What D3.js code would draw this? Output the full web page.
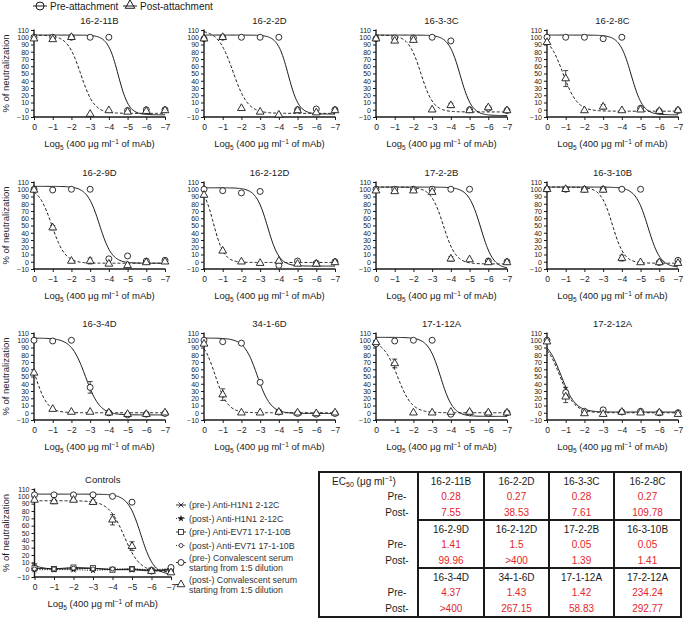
<!DOCTYPE html>
<html>
<head>
<meta charset="utf-8">
<script src="https://cdn.jsdelivr.net/npm/d3@7"></script>
<style>
  body { margin: 0; background: #fff; }
  svg { font-family: "Liberation Sans", Arial, Helvetica, sans-serif; }
</style>
</head>
<body>
<svg id="chart" width="685" height="619"></svg>
<script>
// dilution steps (log5 of 400 ug/ml)
const xTicks = [0, -1, -2, -3, -4, -5, -6, -7];
const yTicks = d3.range(-10, 111, 10);

const panelNames = [
  "16-2-11B", "16-2-2D", "16-3-3C", "16-2-8C",
  "16-2-9D", "16-2-12D", "17-2-2B", "16-3-10B",
  "16-3-4D", "34-1-6D", "17-1-12A", "17-2-12A",
];

// % neutralization at each dilution step
const preValues = [
  [100, 100, 100, 100, 100, -1, 0, 0],
  [98, 100, 100, 100, 100, 0, 1, 0],
  [98, 99, 99, 100, 95, 0, 2, -1],
  [100, 100, 100, 98, 100, 2, -2, -1],
  [100, 99, 100, 100, 4, 8, 1, 2],
  [100, 98, 95, 97, -5, 1, -2, 0],
  [100, 100, 100, 100, 100, 100, 1, 0],
  [100, 100, 100, 100, 100, 100, -1, 2],
  [100, 99, 100, 35, 0, -3, -2, -1],
  [100, 98, 96, 42, 1, -1, -2, -1],
  [95, 99, 100, 100, -2, 0, -1, 0],
  [100, 28, 2, 4, 1, 2, 0, 0],
];
const postValues = [
  [98, 97, 100, -6, -1, -3, -2, -1],
  [98, 100, 2, -3, -7, -1, -4, -1],
  [98, 95, 96, 0, 6, -1, 3, -1],
  [93, 43, -1, 4, -1, 0, -2, -1],
  [99, 47, 1, 1, -3, -5, -1, 0],
  [92, 15, 0, -2, 1, -3, -3, -1],
  [98, 97, 98, 96, 4, 3, -1, -1],
  [100, 100, 99, 99, 5, -1, -1, -2],
  [55, 5, 1, 1, 0, -2, -2, 0],
  [95, 25, 0, 0, 1, 0, -1, 0],
  [97, 68, 0, 0, 1, 1, 0, 0],
  [98, 22, -1, -2, 1, 0, 0, -2],
];
// error bar half-widths
const preErr = [
  [0, 0, 0, 0, 0, 0, 0, 0], [0, 0, 0, 0, 0, 0, 0, 0], [0, 0, 0, 0, 0, 0, 0, 0], [0, 0, 0, 0, 0, 0, 0, 0],
  [0, 0, 0, 0, 0, 0, 0, 0], [0, 0, 0, 0, 0, 0, 0, 0], [0, 0, 0, 0, 0, 0, 0, 0], [0, 0, 0, 0, 0, 0, 0, 0],
  [0, 0, 0, 8, 0, 0, 0, 0], [0, 0, 0, 0, 0, 0, 0, 0], [0, 0, 0, 0, 0, 0, 0, 0], [0, 7, 2, 3, 0, 0, 0, 0],
];
const postErr = [
  [0, 0, 0, 0, 0, 0, 0, 0], [0, 0, 0, 0, 0, 0, 0, 0], [0, 0, 0, 0, 3, 0, 0, 0], [0, 11, 0, 3, 0, 0, 0, 0],
  [0, 3, 0, 4, 0, 0, 0, 0], [0, 0, 0, 0, 0, 0, 0, 0], [0, 0, 0, 0, 3, 0, 0, 0], [0, 0, 0, 0, 4, 0, 0, 0],
  [0, 0, 0, 0, 0, 0, 0, 0], [0, 8, 0, 0, 0, 0, 0, 0], [0, 6, 0, 0, 0, 0, 0, 0], [0, 8, 0, 0, 0, 0, 0, 0],
];
// fitted sigmoid: [top, bottom, midpoint, slope]
const preFit = [
  [103, -7, -4.5, 3.5], [103, -6, -4.5, 3.5], [103, -8, -4.5, 3.2], [103, -7, -4.5, 3.2],
  [104, -2, -3.5, 3], [102, -6, -3.4, 3.2], [103, -10, -5.6, 3], [103, -8, -5.4, 3],
  [103, -3, -2.75, 2.6], [103, -1, -2.85, 2.8], [104, -5, -3.45, 3], [102, 1, -0.75, 2.6],
];
const postFit = [
  [103, -5, -2.5, 2.8], [110, -5, -1.55, 2.5], [103, -3, -2.4, 3], [103, -2, -0.85, 2.6],
  [103, -2, -0.95, 2.8], [108, -1, -0.5, 3.5], [103, -3, -3.6, 3], [103, -2, -3.5, 3.2],
  [105, 0, -0.05, 3], [103, 0, -0.6, 3], [100, 0, -1.15, 2.6], [100, 0, -0.7, 2.6],
];

// controls panel
const controlLabels = [
  ["(pre-) Anti-H1N1 2-12C"],
  ["(post-) Anti-H1N1 2-12C"],
  ["(pre-) Anti-EV71 17-1-10B"],
  ["(post-) Anti-EV71 17-1-10B"],
  ["(pre-) Convalescent serum", "starting from 1:5 dilution"],
  ["(post-) Convalescent serum", "starting from 1:5 dilution"],
];
const controlMarkers = ["cross", "star", "square", "smallcircle", "circle", "triangle"];
const controlValues = [
  [5, 1, 1, 2, 0, 0, -2, 0],
  [0, 0, 0, -1, 0, 0, -1, 0],
  [2, 1, 3, 2, 0, 1, -1, 1],
  [1, 1, 2, 1, 1, 1, 0, 2],
  [102, 102, 102, 102, 100, 92, -2, 3],
  [95, 93, 95, 92, 68, 32, -2, -4],
];
const controlErr = [
  [3, 0, 0, 0, 0, 0, 0, 0],
  [0, 0, 0, 0, 0, 0, 0, 0],
  [0, 0, 0, 0, 0, 0, 0, 0],
  [0, 0, 0, 0, 0, 0, 0, 0],
  [0, 0, 0, 0, 0, 0, 0, 0],
  [0, 3, 2, 3, 7, 6, 0, 0],
];
const controlFit = [[103, -7, -5.45, 3], [94, -3, -4.6, 2.5]];

// EC50 table
const tableNames = [
  ["16-2-11B", "16-2-2D", "16-3-3C", "16-2-8C"],
  ["16-2-9D", "16-2-12D", "17-2-2B", "16-3-10B"],
  ["16-3-4D", "34-1-6D", "17-1-12A", "17-2-12A"],
];
const tablePre = [
  ["0.28", "0.27", "0.28", "0.27"],
  ["1.41", "1.5", "0.05", "0.05"],
  ["4.37", "1.43", "1.42", "234.24"],
];
const tablePost = [
  ["7.55", "38.53", "7.61", "109.78"],
  ["99.96", ">400", "1.39", "1.41"],
  [">400", "267.15", "58.83", "292.77"],
];

const svg = d3.select("#chart");
const colX = [34, 204, 376, 547];
const rowTop = [30, 182, 333];
const plotW = 131;
const plotH = 87;
const ink = "#1a1a1a";

function sigmoid(p, x) {
  const [top, bottom, mid, slope] = p;
  return bottom + (top - bottom) / (1 + Math.exp(slope * (mid - x)));
}

function drawMarker(g, type, cx, cy) {
  if (type === "circle") {
    g.append("circle").attr("cx", cx).attr("cy", cy).attr("r", 3)
      .attr("fill", "#fff").attr("stroke", ink).attr("stroke-width", 0.9);
  } else if (type === "smallcircle") {
    g.append("circle").attr("cx", cx).attr("cy", cy).attr("r", 2)
      .attr("fill", "#fff").attr("stroke", ink).attr("stroke-width", 0.8);
  } else if (type === "triangle") {
    g.append("path").attr("transform", `translate(${cx},${cy})`)
      .attr("d", d3.symbol(d3.symbolTriangle).size(26)())
      .attr("fill", "#fff").attr("stroke", ink).attr("stroke-width", 0.9);
  } else if (type === "square") {
    g.append("rect").attr("x", cx - 2.5).attr("y", cy - 2.5).attr("width", 5).attr("height", 5)
      .attr("fill", "#fff").attr("stroke", ink).attr("stroke-width", 0.8);
  } else if (type === "cross") {
    g.append("path").attr("transform", `translate(${cx},${cy})`)
      .attr("d", d3.symbol(d3.symbolX).size(18)())
      .attr("fill", "none").attr("stroke", ink).attr("stroke-width", 0.9);
  } else if (type === "star") {
    g.append("path").attr("transform", `translate(${cx},${cy})`)
      .attr("d", d3.symbol(d3.symbolStar).size(16)())
      .attr("fill", ink);
  }
}

function drawAxes(g, x, y, top, bottom, left, right) {
  const fmt = (d) => (d < 0 ? "\u2212" + Math.abs(d) : d);
  const yAxis = g.append("g").attr("transform", `translate(${left},0)`)
    .call(d3.axisLeft(y).tickValues(yTicks).tickSize(3).tickPadding(1.5).tickFormat(fmt));
  const xAxis = g.append("g").attr("transform", `translate(0,${bottom})`)
    .call(d3.axisBottom(x).tickValues(xTicks).tickSize(3).tickPadding(4).tickFormat(fmt));
  [yAxis, xAxis].forEach((a) => {
    a.select(".domain").remove();
    a.selectAll("line").attr("stroke", ink).attr("stroke-width", 1);
    a.selectAll("text").attr("fill", ink)
      .attr("font-family", "Liberation Sans, Arial, sans-serif");
  });
  // dense y ticks: keep the labels small enough not to collide
  yAxis.selectAll("text").attr("font-size", 6.3).attr("dy", "0.36em")
    .attr("transform", "scale(1.12,1)");
  xAxis.selectAll("text").attr("font-size", 8.5);
  g.append("line").attr("x1", left).attr("x2", left).attr("y1", top - 0.5).attr("y2", bottom + 0.7)
    .attr("stroke", ink).attr("stroke-width", 1.4);
  g.append("line").attr("x1", left - 0.7).attr("x2", right + 0.5).attr("y1", bottom).attr("y2", bottom)
    .attr("stroke", ink).attr("stroke-width", 1.4);

  const lab = g.append("text").attr("x", (left + right) / 2).attr("y", bottom + 30)
    .attr("text-anchor", "middle").attr("font-size", 9.5).attr("fill", ink);
  lab.append("tspan").text("Log");
  lab.append("tspan").attr("font-size", 6.5).attr("dy", 2.5).text("5");
  lab.append("tspan").attr("dy", -2.5).text(" (400 \u03bcg ml");
  lab.append("tspan").attr("font-size", 6.5).attr("dy", -3.5).text("\u22121");
  lab.append("tspan").attr("dy", 3.5).text(" of mAb)");
}

function drawErr(g, cx, y, v, e) {
  if (!e) return;
  const y1 = y(v - e), y2 = y(v + e);
  g.append("line").attr("x1", cx).attr("x2", cx).attr("y1", y1).attr("y2", y2)
    .attr("stroke", ink).attr("stroke-width", 0.8);
  [y1, y2].forEach((yy) => g.append("line").attr("x1", cx - 2.5).attr("x2", cx + 2.5)
    .attr("y1", yy).attr("y2", yy).attr("stroke", ink).attr("stroke-width", 0.8));
}

function drawCurve(g, x, y, fit, dash) {
  const pts = d3.range(0, -7.0001, -0.05).map((t) => [t, sigmoid(fit, t)]);
  g.append("path").datum(pts)
    .attr("d", d3.line().x((d) => x(d[0])).y((d) => y(d[1])))
    .attr("fill", "none").attr("stroke", ink).attr("stroke-width", 1)
    .attr("stroke-dasharray", dash || null);
}

function yLabel(top, bottom) {
  svg.append("text")
    .attr("transform", `translate(9,${(top + bottom) / 2}) rotate(-90)`)
    .attr("text-anchor", "middle").attr("font-size", 9.5).attr("fill", ink)
    .text("% of neutralization");
}

panelNames.forEach((name, i) => {
  const left = colX[i % 4];
  const top = rowTop[Math.floor(i / 4)];
  const bottom = top + plotH;
  const right = left + plotW;
  const x = d3.scaleLinear().domain([0, -7]).range([left, right]);
  const y = d3.scaleLinear().domain([-10, 110]).range([bottom, top]);
  const g = svg.append("g");

  g.append("text").attr("x", (left + right) / 2).attr("y", top - 6)
    .attr("text-anchor", "middle").attr("font-size", 9.5).attr("fill", ink).text(name);

  drawAxes(g, x, y, top, bottom, left, right);
  drawCurve(g, x, y, preFit[i]);
  drawCurve(g, x, y, postFit[i], "3,2");

  xTicks.forEach((t, k) => {
    drawErr(g, x(t), y, preValues[i][k], preErr[i][k]);
    drawErr(g, x(t), y, postValues[i][k], postErr[i][k]);
    drawMarker(g, "circle", x(t), y(preValues[i][k]));
    drawMarker(g, "triangle", x(t), y(postValues[i][k]));
  });

  if (i % 4 === 0) yLabel(top, bottom);
});

// controls panel
(function () {
  const left = 34.5, right = 171, top = 489, bottom = 577;
  const x = d3.scaleLinear().domain([0, -7]).range([left, right]);
  const y = d3.scaleLinear().domain([-10, 110]).range([bottom, top]);
  const g = svg.append("g");
  g.append("text").attr("x", (left + right) / 2).attr("y", top - 6)
    .attr("text-anchor", "middle").attr("font-size", 9.5).attr("fill", ink).text("Controls");
  drawAxes(g, x, y, top, bottom, left, right);
  yLabel(top, bottom);

  const styles = [null, "1,1.5", null, "1,1.5", null, "3,2"];
  const line = d3.line().x((d, k) => x(xTicks[k])).y((d) => y(d)).curve(d3.curveMonotoneX);
  controlValues.slice(0, 4).forEach((vals, s) => {
    g.append("path").datum(vals).attr("d", line)
      .attr("fill", "none").attr("stroke", ink).attr("stroke-width", 0.9)
      .attr("stroke-dasharray", styles[s]);
  });
  drawCurve(g, x, y, controlFit[0]);
  drawCurve(g, x, y, controlFit[1], "3,2");

  controlValues.forEach((vals, s) => {
    vals.forEach((v, k) => {
      drawErr(g, x(xTicks[k]), y, v, controlErr[s][k]);
      drawMarker(g, controlMarkers[s], x(xTicks[k]), y(v));
    });
  });

  // legend
  const legY = [505, 518.5, 532, 545.5, 562.5, 584.5];
  controlLabels.forEach((lines, s) => {
    const cy = legY[s];
    g.append("line").attr("x1", 176).attr("x2", 186).attr("y1", cy).attr("y2", cy)
      .attr("stroke", ink).attr("stroke-width", 0.9).attr("stroke-dasharray", styles[s]);
    drawMarker(g, controlMarkers[s], 181, cy);
    lines.forEach((t, li) => {
      const off = lines.length === 1 ? 3 : (li === 0 ? -2 : 8);
      g.append("text").attr("x", 189).attr("y", cy + off)
        .attr("font-size", 8.8).attr("fill", "#333").text(t);
    });
  });
})();

// top legend
(function () {
  const g = svg.append("g");
  const items = [["circle", "Pre-attachment", 40], ["triangle", "Post-attachment", 130]];
  items.forEach(([m, label, cx]) => {
    g.append("line").attr("x1", cx - 7).attr("x2", cx + 7).attr("y1", 6).attr("y2", 6)
      .attr("stroke", ink).attr("stroke-width", 1);
    if (m === "circle") {
      g.append("circle").attr("cx", cx).attr("cy", 6).attr("r", 4)
        .attr("fill", "none").attr("stroke", ink).attr("stroke-width", 1);
    } else {
      g.append("path").attr("transform", `translate(${cx},${5.5})`)
        .attr("d", d3.symbol(d3.symbolTriangle).size(40)())
        .attr("fill", "none").attr("stroke", ink).attr("stroke-width", 1);
    }
    g.append("text").attr("x", cx + 10).attr("y", 9.5).attr("font-size", 10)
      .attr("fill", ink).text(label);
  });
})();

// EC50 table
(function () {
  const g = svg.append("g");
  const tLeft = 319, tRight = 681;
  const colB = [418, 484, 549, 614, 681];
  const rowB = [472, 520, 568, 617];
  const red = "#e4242b";

  g.append("rect").attr("x", tLeft).attr("y", rowB[0]).attr("width", tRight - tLeft)
    .attr("height", rowB[3] - rowB[0]).attr("fill", "none").attr("stroke", ink).attr("stroke-width", 2);
  colB.slice(0, 4).forEach((cx) => g.append("line").attr("x1", cx).attr("x2", cx)
    .attr("y1", rowB[0]).attr("y2", rowB[3]).attr("stroke", ink).attr("stroke-width", 2));
  rowB.slice(1, 3).forEach((ry) => g.append("line").attr("x1", colB[0]).attr("x2", tRight)
    .attr("y1", ry).attr("y2", ry).attr("stroke", ink).attr("stroke-width", 2));

  const ec = g.append("text").attr("x", 364).attr("y", rowB[0] + 12.5)
    .attr("text-anchor", "middle").attr("font-size", 10).attr("fill", ink);
  ec.append("tspan").text("EC");
  ec.append("tspan").attr("font-size", 7).attr("dy", 2.5).text("50");
  ec.append("tspan").attr("dy", -2.5).text(" (\u03bcg ml");
  ec.append("tspan").attr("font-size", 7).attr("dy", -3.5).text("\u22121");
  ec.append("tspan").attr("dy", 3.5).text(")");

  tableNames.forEach((row, r) => {
    const by = rowB[r];
    g.append("text").attr("x", 397).attr("y", by + 28).attr("text-anchor", "middle")
      .attr("font-size", 10).attr("fill", ink).text("Pre-");
    g.append("text").attr("x", 397).attr("y", by + 44).attr("text-anchor", "middle")
      .attr("font-size", 10).attr("fill", ink).text("Post-");
    row.forEach((name, c) => {
      const cx = (colB[c] + colB[c + 1]) / 2;
      g.append("text").attr("x", cx).attr("y", by + 12.5).attr("text-anchor", "middle")
        .attr("font-size", 10).attr("fill", ink).text(name);
      g.append("text").attr("x", cx).attr("y", by + 28).attr("text-anchor", "middle")
        .attr("font-size", 10).attr("fill", red).text(tablePre[r][c]);
      g.append("text").attr("x", cx).attr("y", by + 44).attr("text-anchor", "middle")
        .attr("font-size", 10).attr("fill", red).text(tablePost[r][c]);
    });
  });
})();
</script>
</body>
</html>
